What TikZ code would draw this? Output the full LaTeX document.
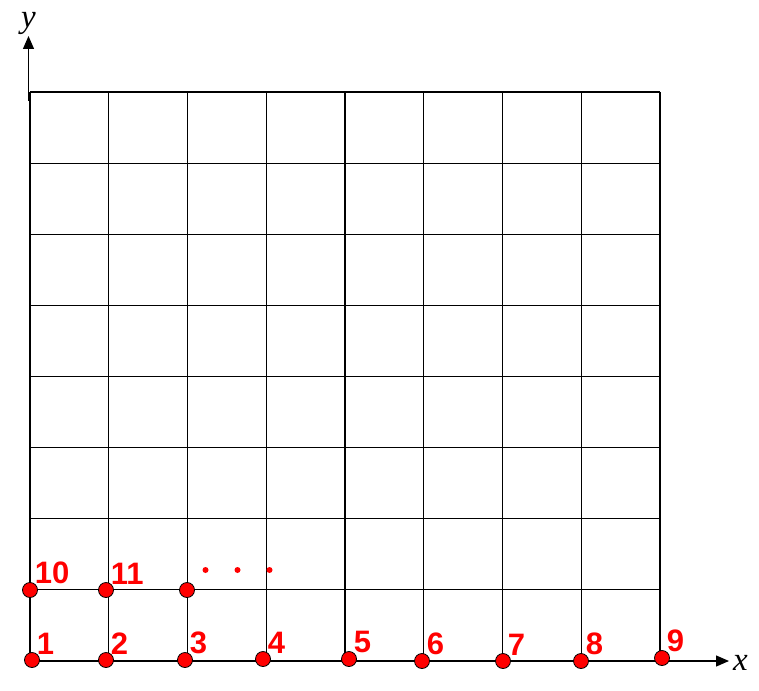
\documentclass[tikz,border=0pt]{standalone}
\usepackage{fontspec}
\newfontfamily\lblfont{Liberation Sans}
\newfontfamily\axfont{Liberation Serif}
\usetikzlibrary{arrows.meta,positioning}

\begin{document}
\begin{tikzpicture}[x=1pt,y=-1pt,
  grd/.style={line width=1.1pt},
  ax/.style={line width=1.2pt,-{Triangle[length=13pt,width=11pt]}},
  pt/.style={circle,draw=black,fill=red,line width=0.8pt,minimum size=15pt,inner sep=0pt},
  num/.style={text=red,inner sep=0pt,font=\lblfont\bfseries\fontsize{31}{31}\selectfont},
  axlbl/.style={inner sep=0pt,font=\axfont\itshape\fontsize{33}{33}\selectfont},
  node distance=0pt and 0pt]
\useasboundingbox (0,0) rectangle (759,690);
% grid
\foreach \i in {0,...,8} {
  \draw[grd] ({30+78.75*\i},92) -- ({30+78.75*\i},661);
  \draw[grd] (30,{92+71.125*\i}) -- (660,{92+71.125*\i});
}
% axes
\coordinate (xs) at (660,661);
\coordinate (xe) at (729,661);
\coordinate (ys) at (28.5,101);
\coordinate (ye) at (28.5,36);
\draw[ax] (xs) -- (xe);
\draw[ax] (ys) -- (ye);
\node[axlbl,right=4pt of xe,yshift=-2pt] (xl) {x};
\node[axlbl,above=1pt of ye] (yl) {y};
% sample points
\foreach \n/\px/\py in {1/32/660,2/106/660,3/185/660,4/263/659,5/349/659,
    6/422/661,7/503/661,8/581/661,9/662/658,10/30/590,11/106/590,12/187/590}
  \node[pt] (d\n) at (\px,\py) {};
\foreach \n in {1,...,11}
  \node[num,above right=0pt and -1pt of d\n] (l\n) {\n};
% dots
\foreach \px in {205.5,237.5,269.5}
  \fill[red] (\px,570) circle (3pt);
\end{tikzpicture}
\end{document}
